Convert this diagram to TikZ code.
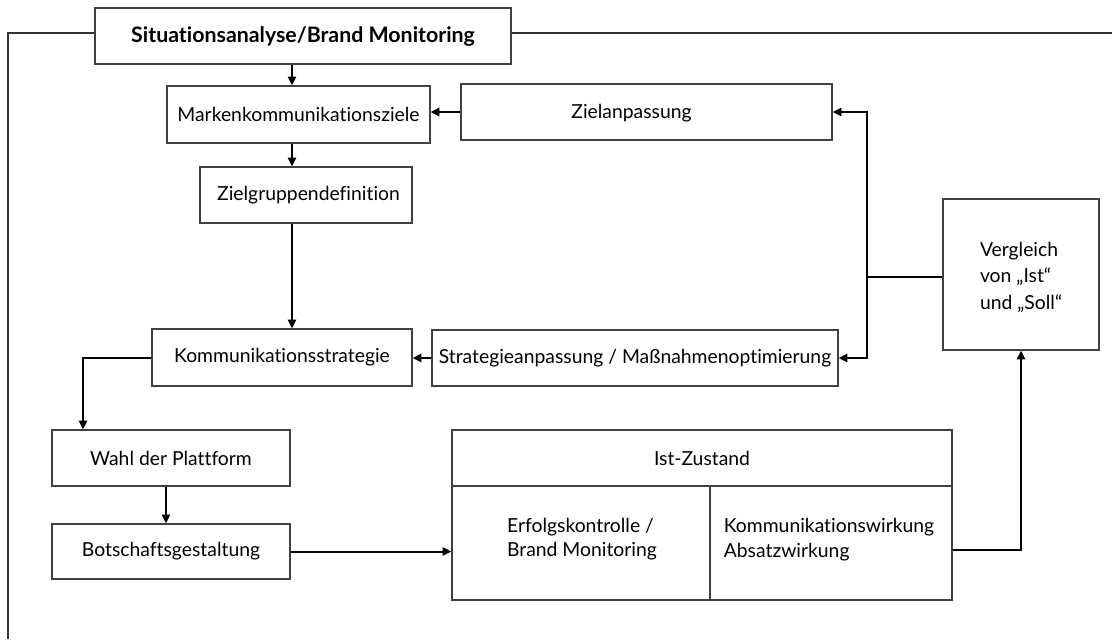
\documentclass[tikz,border=0pt]{standalone}
\usepackage{fontspec}
\setmainfont[Ligatures=NoCommon]{Lato}
\usetikzlibrary{arrows.meta}
\begin{document}
\begin{tikzpicture}[x=0.75pt,y=-0.75pt,
 box/.style={draw=black!75, line width=0.9pt, inner sep=0pt, font=\fontsize{14.5}{19}\selectfont},
 txt/.style={inner sep=0pt, font=\fontsize{14.5}{18.5}\selectfont},
 arr/.style={line width=1.5pt, -{Triangle[length=6.5pt,width=6pt]}},
 ln/.style={line width=1.5pt},
 frameline/.style={line width=0.8pt, draw=black!80}]
\useasboundingbox (0,0) rectangle (1112,639);
% boxes
\node[box, minimum width=312pt, minimum height=42pt, font=\fontsize{16}{19}\selectfont\bfseries] (title) at (303,36) {Situationsanalyse/Brand Monitoring};
\node[box, minimum width=197.25pt, minimum height=42.75pt] (marken) at (298.5,114.5) {Markenkommunikationsziele};
\node[box, minimum width=278.25pt, minimum height=42pt] (ziel) at (646.5,112) {};
\node[txt] (zieltxt) at (631.5,113) {Zielanpassung};
\node[box, minimum width=159pt, minimum height=42pt] (zg) at (306,195) {};
\node[txt] (zgtxt) at (308.5,195) {Zielgruppendefinition};
\node[box, minimum width=195pt, minimum height=42.75pt] (ks) at (282,357.5) {Kommunikationsstrategie};
\node[box, minimum width=304.5pt, minimum height=42pt] (sa) at (635,358) {Strategieanpassung / Maßnahmenoptimierung};
\node[box, minimum width=117pt, minimum height=113.25pt] (vg) at (1021,274.5) {};
\node[txt, align=left, font=\fontsize{14.5}{19.9}\selectfont] (vgtxt) at (1021,277) {Vergleich\\von „Ist“\\und „Soll“};
\node[box, minimum width=178.5pt, minimum height=42pt] (wp) at (171,458) {Wahl der Plattform};
\node[box, minimum width=178.5pt, minimum height=41.25pt] (bg) at (171,551.5) {Botschaftsgestaltung};
\node[box, minimum width=375pt, minimum height=42pt] (isthead) at (702,458) {Ist-Zustand};
\node[box, minimum width=193.5pt, minimum height=85.5pt] (lc) at (581,543) {};
\node[txt, align=left] (lctxt) at (582,539) {Erfolgskontrolle /\\Brand Monitoring};
\node[box, minimum width=181.5pt, minimum height=85.5pt] (rc) at (831,543) {};
\node[txt, align=left] (rctxt) at (829,539.5) {Kommunikationswirkung\\Absatzwirkung};
% frame
\coordinate (fy) at (0,33);
\draw[frameline] (title.west |- fy) -- (8,33) -- (8,639);
\draw[frameline] (title.east |- fy) -- (1112,33);
% connectors
\coordinate (ax) at (292,0);
\coordinate (j) at (867,277);
\coordinate (kl) at (83,0);
\coordinate (wx) at (166,0);
\coordinate (oy) at (0,550);
\draw[arr] (title.south -| ax) -- (marken.north -| ax);
\draw[arr] (ziel.west) -- (marken.east |- ziel.west);
\draw[arr] (marken.south -| ax) -- (zg.north -| ax);
\draw[arr] (zg.south -| ax) -- (ks.north -| ax);
\draw[arr] (sa.west) -- (ks.east |- sa.west);
\draw[ln] (vg.west |- j) -- (j);
\draw[arr] (j) |- (ziel.east);
\draw[arr] (j) |- (sa.east);
\draw[arr] (rc.east |- oy) -| (vg.south);
\draw[arr] (ks.west) -| (wp.north -| kl);
\draw[arr] (wp.south -| wx) -- (bg.north -| wx);
\draw[arr] (bg.east) -- (lc.west |- bg.east);
\end{tikzpicture}
\end{document}
